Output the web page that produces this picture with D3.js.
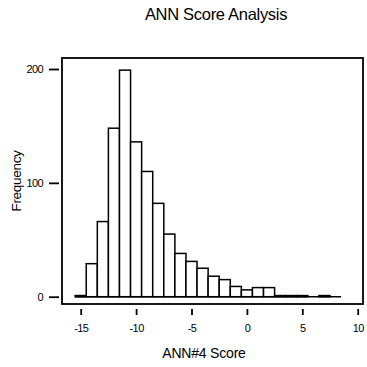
<!DOCTYPE html>
<html>
<head>
<meta charset="utf-8">
<script src="https://cdn.jsdelivr.net/npm/d3@7"></script>
<style>
  body { margin: 0; background: #fff; }
  text { font-family: "Liberation Sans", Arial, sans-serif; fill: #000; }
</style>
</head>
<body>
<div id="chart"></div>
<script>
// bin centres (ANN#4 score) and counts
const binCenters = [-15, -14, -13, -12, -11, -10, -9, -8, -7, -6, -5, -4, -3, -2, -1, 0, 1, 2, 3, 4, 5, 6, 7, 8];
const counts = [1, 29, 66, 148, 199, 136, 110, 82, 55, 38, 31, 25, 18, 15, 9, 6, 8, 8, 1, 1, 1, 0, 1, 0];
const xTicks = [-15, -10, -5, 0, 5, 10];
const yTicks = [0, 100, 200];

const width = 367, height = 367;

const svg = d3.select('#chart').append('svg')
  .attr('width', width)
  .attr('height', height);

const x = d3.scaleLinear().domain([-15, 10]).range([80.7, 357.7]);
const y = d3.scaleLinear().domain([0, 200]).range([296.7, 69]);

// frame round the plot
svg.append('rect')
  .attr('x', 62).attr('y', 58)
  .attr('width', 301).attr('height', 246)
  .attr('fill', 'none')
  .attr('stroke', '#000')
  .attr('stroke-width', 1.8);

// baseline under the bins (empty bins show as a line)
svg.append('line')
  .attr('x1', x(d3.min(binCenters) - 0.5))
  .attr('x2', x(d3.max(binCenters) + 0.5))
  .attr('y1', y(0)).attr('y2', y(0))
  .attr('stroke', '#000')
  .attr('stroke-width', 1.5);

// bars
svg.append('g')
  .selectAll('rect')
  .data(binCenters)
  .join('rect')
  .attr('x', (d) => x(d - 0.5))
  .attr('width', (d) => x(d + 0.5) - x(d - 0.5))
  .attr('y', (d, i) => y(counts[i]))
  .attr('height', (d, i) => y(0) - y(counts[i]))
  .attr('fill', '#fff')
  .attr('stroke', '#000')
  .attr('stroke-width', 1.5);

const xAxis = svg.append('g')
  .attr('transform', 'translate(0,309)')
  .call(d3.axisBottom(x).tickValues(xTicks).tickFormat((d) => String(d)).tickSize(6).tickPadding(9));

const yAxis = svg.append('g')
  .attr('transform', 'translate(59,0)')
  .call(d3.axisLeft(y).tickValues(yTicks).tickFormat((d) => String(d)).tickSize(10).tickPadding(6));

[xAxis, yAxis].forEach((g) => {
  g.select('.domain').remove();
  g.selectAll('.tick line').attr('stroke', '#000').attr('stroke-width', 1.8);
  g.selectAll('.tick text')
    .style('font-family', '"Liberation Sans", Arial, sans-serif')
    .style('font-size', '11px')
    .style('letter-spacing', '-0.6px')
    .attr('fill', '#000');
});

svg.append('text')
  .attr('x', 216).attr('y', 20)
  .attr('text-anchor', 'middle')
  .style('font-size', '16.5px')
  .style('letter-spacing', '-0.3px')
  .text('ANN Score Analysis');

svg.append('text')
  .attr('x', 204).attr('y', 358)
  .attr('text-anchor', 'middle')
  .style('font-size', '14px')
  .style('letter-spacing', '-0.2px')
  .text('ANN#4 Score');

svg.append('text')
  .attr('transform', 'translate(21,181) rotate(-90)')
  .attr('text-anchor', 'middle')
  .style('font-size', '13.5px')
  .style('letter-spacing', '-0.3px')
  .text('Frequency');
</script>
</body>
</html>
